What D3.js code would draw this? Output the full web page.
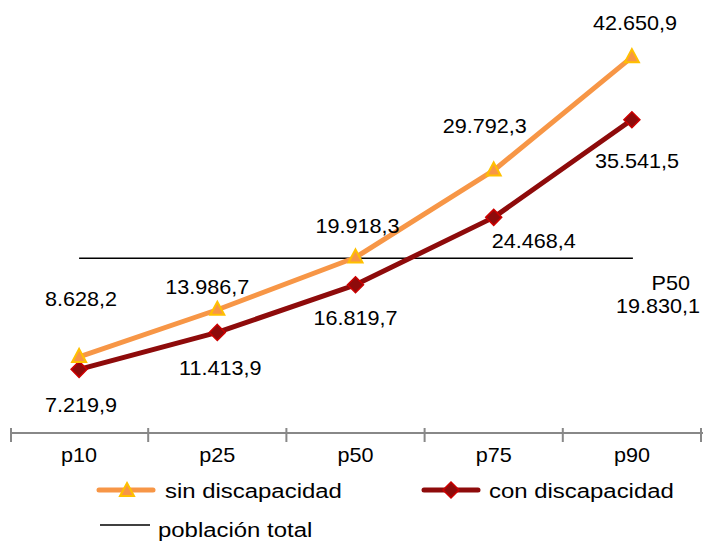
<!DOCTYPE html>
<html>
<head>
<meta charset="utf-8">
<script src="https://cdn.jsdelivr.net/npm/d3@7"></script>
<style>
  html, body { margin: 0; padding: 0; background: #fff; }
  svg { display: block; }
  text { font-family: "Liberation Sans", Arial, sans-serif; fill: #000; }
</style>
</head>
<body>
<svg id="chart" width="703" height="543"></svg>
<script>
// Percentiles of income, with and without disability
const categories = ["p10", "p25", "p50", "p75", "p90"];
const sinDiscapacidad = [8628.2, 13986.7, 19918.3, 29792.3, 42650.9];
const conDiscapacidad = [7219.9, 11413.9, 16819.7, 24468.4, 35541.5];
const poblacionTotalP50 = 19830.1;
const seriesNames = ["sin discapacidad", "con discapacidad", "población total"];

// Label placement relative to each marker (dx, baseline dy)
const sinLabelOffsets = [[2, -51], [-10, -16], [2, -24], [-9, -37], [3, -27]];
const conLabelOffsets = [[2, 43], [3, 43], [0, 40], [40, 31], [5, 48]];

const fmt = v => {
  const s = v.toFixed(1).split(".");
  return s[0].replace(/\B(?=(\d{3})+(?!\d))/g, ".") + "," + s[1];
};

const svg = d3.select("#chart");
const x = d3.scaleBand().domain(categories).range([10, 701]).padding(0);
const y = d3.scaleLinear().domain([0, 48000]).range([433, 10]);
const cx = c => x(c) + x.bandwidth() / 2;

const ORANGE = "#F79646", GOLD = "#FFC000";
const DARKRED = "#8E0B0B", RED = "#CC0000";

// text helper: Arial-like glyphs, slightly widened
function label(g, str, px, py, size, sx, anchor) {
  const t = g.append("text")
    .attr("transform", `translate(${px},${py}) scale(${sx},1)`)
    .style("font-size", size + "px")
    .attr("text-anchor", anchor || "middle")
    .text(str);
  return t;
}

// x axis
const axisG = svg.append("g").attr("transform", "translate(0,433)");
const axis = d3.axisBottom(x).tickSize(0).tickFormat(() => "");
axisG.call(axis);
axisG.select(".domain").attr("d", "M10,0H703").attr("stroke", "#888").attr("stroke-width", 2);
const bounds = categories.map(c => x(c)).concat([701]);
axisG.selectAll("line.bt").data(bounds).enter().append("line")
  .attr("class", "bt")
  .attr("x1", d => d + (d === 10 ? 1 : 0)).attr("x2", d => d + (d === 10 ? 1 : 0))
  .attr("y1", -5).attr("y2", 9)
  .attr("stroke", "#888").attr("stroke-width", 2);
categories.forEach(c => label(svg, c, cx(c), 462, 20, 1.08));

// population median reference line
svg.append("line")
  .attr("x1", cx(categories[0])).attr("x2", cx(categories[4]) + 1)
  .attr("y1", y(poblacionTotalP50)).attr("y2", y(poblacionTotalP50))
  .attr("stroke", "#000").attr("stroke-width", 1.5);

const line = d3.line().x((d, i) => cx(categories[i])).y(d => y(d));

// series lines
svg.append("path").datum(sinDiscapacidad).attr("d", line)
  .attr("fill", "none").attr("stroke", ORANGE).attr("stroke-width", 5).attr("stroke-linejoin", "round");
svg.append("path").datum(conDiscapacidad).attr("d", line)
  .attr("fill", "none").attr("stroke", DARKRED).attr("stroke-width", 5).attr("stroke-linejoin", "round");

const tri = "M0,-8L7,5L-7,5Z";
const dia = "M0,-8L8,0L0,8L-8,0Z";

function triMarker(g, px, py) {
  g.append("path").attr("d", tri).attr("transform", `translate(${px},${py})`)
    .attr("fill", ORANGE).attr("stroke", GOLD).attr("stroke-width", 2).attr("stroke-linejoin", "miter");
}
function diaMarker(g, px, py) {
  g.append("path").attr("d", dia).attr("transform", `translate(${px},${py})`)
    .attr("fill", DARKRED).attr("stroke", RED).attr("stroke-width", 1.5);
}

conDiscapacidad.forEach((v, i) => diaMarker(svg, cx(categories[i]), y(v)));
sinDiscapacidad.forEach((v, i) => triMarker(svg, cx(categories[i]), y(v)));

// data labels
sinDiscapacidad.forEach((v, i) => {
  const o = sinLabelOffsets[i];
  label(svg, fmt(v), cx(categories[i]) + o[0], y(v) + o[1], 20, 1.08);
});
conDiscapacidad.forEach((v, i) => {
  const o = conLabelOffsets[i];
  label(svg, fmt(v), cx(categories[i]) + o[0], y(v) + o[1], 20, 1.08);
});

// reference line label
label(svg, "P50", 690, 290, 20, 1.08, "end");
label(svg, fmt(poblacionTotalP50), 658, 313, 20, 1.08);

// legend
const lg = svg.append("g");
lg.append("line").attr("x1", 99).attr("x2", 153).attr("y1", 490).attr("y2", 490)
  .attr("stroke", ORANGE).attr("stroke-width", 5).attr("stroke-linecap", "round");
triMarker(lg, 127, 491);
label(lg, seriesNames[0], 165, 498, 21, 1.14, "start");

lg.append("line").attr("x1", 424).attr("x2", 478).attr("y1", 490).attr("y2", 490)
  .attr("stroke", DARKRED).attr("stroke-width", 5).attr("stroke-linecap", "round");
diaMarker(lg, 451, 490);
label(lg, seriesNames[1], 489, 498, 21, 1.14, "start");

lg.append("line").attr("x1", 100).attr("x2", 150).attr("y1", 525).attr("y2", 525)
  .attr("stroke", "#000").attr("stroke-width", 1.5);
label(lg, seriesNames[2], 158, 537, 21, 1.14, "start");
</script>
</body>
</html>
